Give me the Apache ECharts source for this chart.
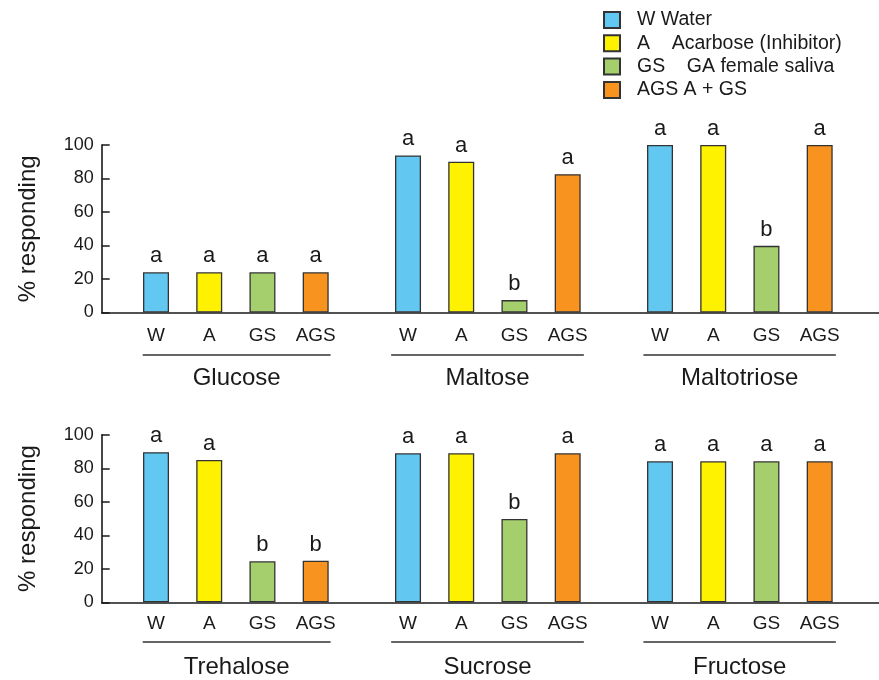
<!DOCTYPE html>
<html>
<head>
<meta charset="utf-8">
<script src="https://cdn.jsdelivr.net/npm/echarts@6/dist/echarts.min.js"></script>
<style>
  html, body { margin: 0; padding: 0; background: #fff; }
  #chart { width: 879px; height: 680px; }
</style>
</head>
<body>
<div id="chart"></div>
<script>
// data
const treatments = ['W', 'A', 'GS', 'AGS'];
const legendNames = ['W Water', 'A    Acarbose (Inhibitor)', 'GS    GA female saliva', 'AGS A + GS'];
const sugars = ['Glucose', 'Maltose', 'Maltotriose', 'Trehalose', 'Sucrose', 'Fructose'];
const water = [24, 93.8, 100, 89.6, 89, 84.2];
const acarbose = [24, 90, 100, 85, 89, 84.2];
const gsSaliva = [24, 7.4, 39.8, 24.5, 49.7, 84.2];
const agsMix = [24, 82.6, 100, 24.8, 89, 84.2];
const lettersW = ['a', 'a', 'a', 'a', 'a', 'a'];
const lettersA = ['a', 'a', 'a', 'a', 'a', 'a'];
const lettersGS = ['a', 'b', 'b', 'b', 'b', 'a'];
const lettersAGS = ['a', 'a', 'a', 'b', 'a', 'a'];

const values = [water, acarbose, gsSaliva, agsMix];
const letters = [lettersW, lettersA, lettersGS, lettersAGS];
const colors = ['#62c8f2', '#fff200', '#a5cf6c', '#f7931e'];

// layout
const font = 'Liberation Sans, Arial, sans-serif';
const ink = '#1a1a1a';
const rowTop = [145, 434.8];
const plotH = 167.5;
const colLeft = [129.4, 381.4, 633.4];
const groupW = 212.9;
const ulLeft = [143.3, 391.7, 644];
const ulRight = [330, 583.3, 835.3];
const labelMargin = [14, 12];
const ulOffset = [42, 40.4];
const nameGap = [12, 13];

const grid = [], xAxis = [], yAxis = [], series = [];

function addGrid(g) {
  grid.push(g);
  return grid.length - 1;
}

for (let r = 0; r < 2; r++) {
  // frame with y axis and long baseline
  let gi = addGrid({ left: 101.7, right: 0, top: rowTop[r], height: plotH });
  xAxis.push({
    gridIndex: gi, type: 'value', min: 0, max: 1,
    axisLine: { show: true, onZero: false, lineStyle: { color: ink, width: 1.6 } },
    axisTick: { show: false }, axisLabel: { show: false }, splitLine: { show: false }
  });
  yAxis.push({
    gridIndex: gi, type: 'value', min: 0, max: 100, interval: 20,
    name: '% responding', nameLocation: 'middle', nameGap: 61,
    nameTextStyle: { fontSize: 24, color: ink, fontFamily: font },
    axisLine: { show: true, lineStyle: { color: ink, width: 1.6 } },
    axisTick: { show: true, inside: true, length: 8, lineStyle: { color: ink, width: 1.5 } },
    axisLabel: { fontSize: 18, color: ink, fontFamily: font, margin: 8 },
    splitLine: { show: false }
  });

  for (let c = 0; c < 3; c++) {
    const g = r * 3 + c;
    // bars
    gi = addGrid({ left: colLeft[c], width: groupW, top: rowTop[r], height: plotH });
    xAxis.push({
      gridIndex: gi, type: 'category', data: treatments,
      axisLine: { show: false }, axisTick: { show: false },
      axisLabel: { fontSize: 19, color: ink, fontFamily: font, margin: labelMargin[r] }
    });
    yAxis.push({ gridIndex: gi, type: 'value', min: 0, max: 100, show: false });
    const ax = xAxis.length - 1;
    treatments.forEach((t, ti) => {
      series.push({
        type: 'bar', name: legendNames[ti],
        xAxisIndex: ax, yAxisIndex: ax,
        barWidth: 26, barGap: '-100%',
        itemStyle: { color: colors[ti], borderColor: '#333', borderWidth: 1.3 },
        label: {
          show: true, position: 'top', distance: 5,
          fontSize: 22, color: ink, fontFamily: font,
          formatter: () => letters[ti][g]
        },
        emphasis: { disabled: true },
        data: treatments.map((_, i) => (i === ti ? values[ti][g] : '-'))
      });
    });

    // underline with sugar name
    gi = addGrid({ left: ulLeft[c], width: ulRight[c] - ulLeft[c], top: rowTop[r], height: plotH });
    xAxis.push({
      gridIndex: gi, type: 'value', min: 0, max: 1, offset: ulOffset[r],
      name: sugars[g], nameLocation: 'middle', nameGap: nameGap[r],
      nameTextStyle: { fontSize: 24, color: ink, fontFamily: font },
      axisLine: { show: true, onZero: false, lineStyle: { color: '#333', width: 1.6 } },
      axisTick: { show: false }, axisLabel: { show: false }, splitLine: { show: false }
    });
    yAxis.push({ gridIndex: gi, type: 'value', min: 0, max: 1, show: false });
  }
}

const chart = echarts.init(document.getElementById('chart'));
chart.setOption({
  animation: false,
  backgroundColor: '#fff',
  legend: {
    data: legendNames,
    orient: 'vertical', left: 603, top: 10, padding: 0,
    itemWidth: 16, itemHeight: 16, itemGap: 3.3, icon: 'rect',
    selectedMode: false,
    textStyle: { fontSize: 19.5, lineHeight: 19, color: ink, fontFamily: font, padding: [0, 0, 0, 12] }
  },
  grid, xAxis, yAxis, series
});
</script>
</body>
</html>
